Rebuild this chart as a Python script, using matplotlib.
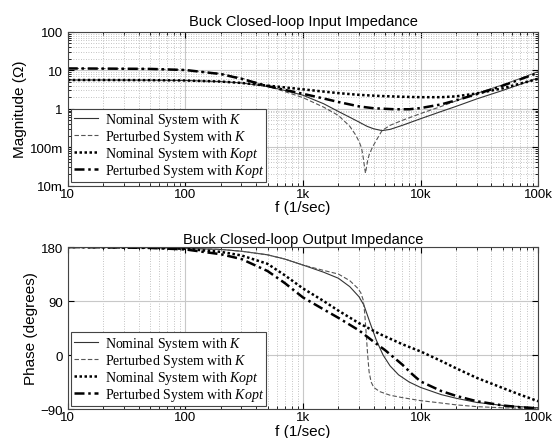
import matplotlib
matplotlib.use("Agg")
import matplotlib.pyplot as plt
from matplotlib.ticker import FixedLocator, FixedFormatter, LogLocator, NullFormatter

plt.rcParams["font.family"] = ["Liberation Sans", "DejaVu Sans"]
plt.rcParams["mathtext.fontset"] = "custom"
plt.rcParams["mathtext.it"] = "Liberation Serif:italic"
plt.rcParams["mathtext.rm"] = "Liberation Serif"

# ---- magnitude (ohm) ----
f_nk = [10, 20, 50, 100, 200, 300, 500, 700, 1000, 1500, 2000, 2500, 3000, 3500, 4000, 4700,
        5500, 7000, 10000, 15000, 20000, 30000, 50000, 70000, 100000]
mag_nk = [5.6, 5.6, 5.55, 5.45, 5.1, 4.7, 3.8, 3.0, 2.25, 1.35, 0.85, 0.6, 0.45, 0.35, 0.3, 0.27,
          0.29, 0.37, 0.55, 0.85, 1.15, 1.8, 3.0, 4.3, 6.3]

f_pk = [10, 20, 50, 100, 200, 300, 500, 700, 1000, 1500, 2000, 2500, 2800, 3000, 3150, 3250,
        3350, 3400, 3450, 3550, 3650, 3900, 4200, 4700, 5500, 7000, 10000, 15000, 20000, 30000,
        50000, 70000, 100000]
mag_pk = [11.2, 11.1, 10.9, 10.2, 8.2, 6.3, 3.9, 2.8, 1.95, 1.1, 0.67, 0.35, 0.21, 0.14, 0.095,
          0.055, 0.028, 0.021, 0.027, 0.045, 0.063, 0.1, 0.15, 0.27, 0.37, 0.5, 0.75, 1.15, 1.6,
          2.5, 4.2, 6.1, 9.3]

f_no = [10, 20, 50, 100, 200, 300, 500, 700, 1000, 1500, 2000, 3000, 4500, 7000, 10000, 15000,
        20000, 30000, 50000, 70000, 100000]
mag_no = [5.6, 5.6, 5.55, 5.45, 5.1, 4.7, 4.0, 3.6, 3.2, 2.8, 2.55, 2.3, 2.15, 2.05, 2.0, 2.0,
          2.1, 2.5, 3.4, 4.5, 6.0]

f_po = [10, 20, 50, 100, 200, 300, 500, 700, 1000, 1500, 2000, 3000, 4000, 6000, 8000, 10000,
        15000, 20000, 30000, 50000, 70000, 100000]
mag_po = [11.2, 11.1, 10.9, 10.2, 8.0, 6.0, 3.9, 3.1, 2.45, 1.85, 1.5, 1.15, 1.03, 0.97, 0.97,
          1.04, 1.3, 1.65, 2.4, 4.0, 5.8, 8.7]

# ---- phase (degrees) ----
fp_nk = [10, 20, 50, 100, 200, 300, 500, 700, 1000, 1500, 2000, 2500, 3000, 3300, 3700, 4200,
         4800, 5500, 6500, 8000, 10000, 15000, 20000, 30000, 50000, 100000]
ph_nk = [180, 179.7, 179, 178, 176, 173, 167, 160, 150, 138, 128, 114, 97, 83, 55, 25,
         0, -18, -33, -45, -54, -66, -72, -79, -84, -88]

fp_pk = [10, 20, 50, 100, 200, 300, 500, 700, 1000, 1500, 2000, 2500, 2900, 3100, 3250, 3350,
         3450, 3550, 3650, 3800, 4000, 4500, 5500, 7000, 10000, 15000, 20000, 30000, 50000,
         100000]
ph_pk = [180, 179.7, 179, 178, 176, 173, 167, 160, 150, 141, 135, 124, 112, 104, 92, 70,
         35, 0, -28, -45, -54, -61, -67, -71, -76, -80, -83, -86, -88, -89]

fp_no = [10, 20, 50, 100, 200, 300, 500, 700, 1000, 1500, 2000, 3000, 4500, 7000, 10000, 15000,
         20000, 30000, 50000, 70000, 100000]
ph_no = [180, 179.6, 179, 177, 172, 166, 152, 133, 111, 90, 74, 53, 35, 18, 6, -10,
         -22, -38, -55, -66, -77]

fp_po = [10, 20, 50, 100, 200, 300, 500, 700, 1000, 1500, 2000, 3000, 4000, 5000, 6000, 7000,
         8500, 10000, 15000, 20000, 30000, 50000, 70000, 100000]
ph_po = [180, 179.5, 178.5, 176, 168, 160, 140, 120, 96, 76, 62, 41, 22, 8, -5, -16,
         -32, -44, -60, -68, -77, -84, -87, -89]

labels = ["Nominal System with $K$", "Perturbed System with $K$",
          "Nominal System with $Kopt$", "Perturbed System with $Kopt$"]
xticks = [10, 100, 1000, 10000, 100000]
xlabels = ["10", "100", "1k", "10k", "100k"]

styles = [dict(color="#333333", lw=0.8, ls="-"),
          dict(color="#555555", lw=0.8, ls=(0, (4, 2))),
          dict(color="black", lw=1.8, ls=(0, (1, 1))),
          dict(color="black", lw=1.8, ls=(0, (4, 1.5, 1, 1.5)))]

fig = plt.figure(figsize=(5.6, 4.39), dpi=100)
ax1 = fig.add_axes([0.121, 0.575, 0.840, 0.350])
ax2 = fig.add_axes([0.121, 0.066, 0.840, 0.369])


def style_axis(ax):
    ax.set_xscale("log")
    ax.set_xlim(10, 100000)
    ax.xaxis.set_major_locator(FixedLocator(xticks))
    ax.xaxis.set_major_formatter(FixedFormatter(xlabels))
    ax.xaxis.set_minor_locator(LogLocator(base=10, subs=range(2, 10)))
    ax.xaxis.set_minor_formatter(NullFormatter())
    ax.grid(which="major", color="#c8c8c8", lw=0.8, ls="-")
    ax.grid(which="minor", axis="x", color="#b0b0b0", lw=0.6, ls=(0, (1, 2)))
    ax.tick_params(which="both", direction="in", top=True, right=True, labelsize=9.5)
    ax.tick_params(which="major", length=4)
    ax.tick_params(which="minor", length=2)
    ax.tick_params(axis="x", pad=1.5)
    ax.set_xlabel("f (1/sec)", fontsize=11, labelpad=0.5)
    for s in ax.spines.values():
        s.set_linewidth(0.8)
        s.set_color("#444444")


data_mag = [(f_nk, mag_nk), (f_pk, mag_pk), (f_no, mag_no), (f_po, mag_po)]
for (fx, v), st, lab in zip(data_mag, styles, labels):
    ax1.plot(fx, v, label=lab, **st)
style_axis(ax1)
ax1.set_yscale("log")
ax1.set_ylim(0.01, 100)
ax1.yaxis.set_major_locator(FixedLocator([0.01, 0.1, 1, 10, 100]))
ax1.yaxis.set_major_formatter(FixedFormatter(["10m", "100m", "1", "10", "100"]))
ax1.yaxis.set_minor_locator(LogLocator(base=10, subs=range(2, 10)))
ax1.yaxis.set_minor_formatter(NullFormatter())
ax1.grid(which="minor", axis="y", color="#b0b0b0", lw=0.6, ls=(0, (1, 2)))
ax1.set_ylabel("Magnitude (Ω)", fontsize=11, labelpad=2)
ax1.set_title("Buck Closed-loop Input Impedance", fontsize=10.5, pad=5)

data_ph = [(fp_nk, ph_nk), (fp_pk, ph_pk), (fp_no, ph_no), (fp_po, ph_po)]
for (fx, v), st, lab in zip(data_ph, styles, labels):
    ax2.plot(fx, v, label=lab, **st)
style_axis(ax2)
ax2.set_ylim(-90, 180)
ax2.set_yticks([-90, 0, 90, 180])
ax2.set_ylabel("Phase (degrees)", fontsize=11, labelpad=2)
ax2.set_title("Buck Closed-loop Output Impedance", fontsize=10.5, pad=3)

for ax in (ax1, ax2):
    leg = ax.legend(loc="lower left", prop={"family": "Liberation Serif", "size": 10},
                    handlelength=1.7, handletextpad=0.5, labelspacing=0.0,
                    borderpad=0.2, borderaxespad=0.25, fancybox=False, framealpha=1)
    leg.get_frame().set_edgecolor("#444444")
    leg.get_frame().set_linewidth(0.8)

fig.savefig("out.png", dpi=100, facecolor="white")
